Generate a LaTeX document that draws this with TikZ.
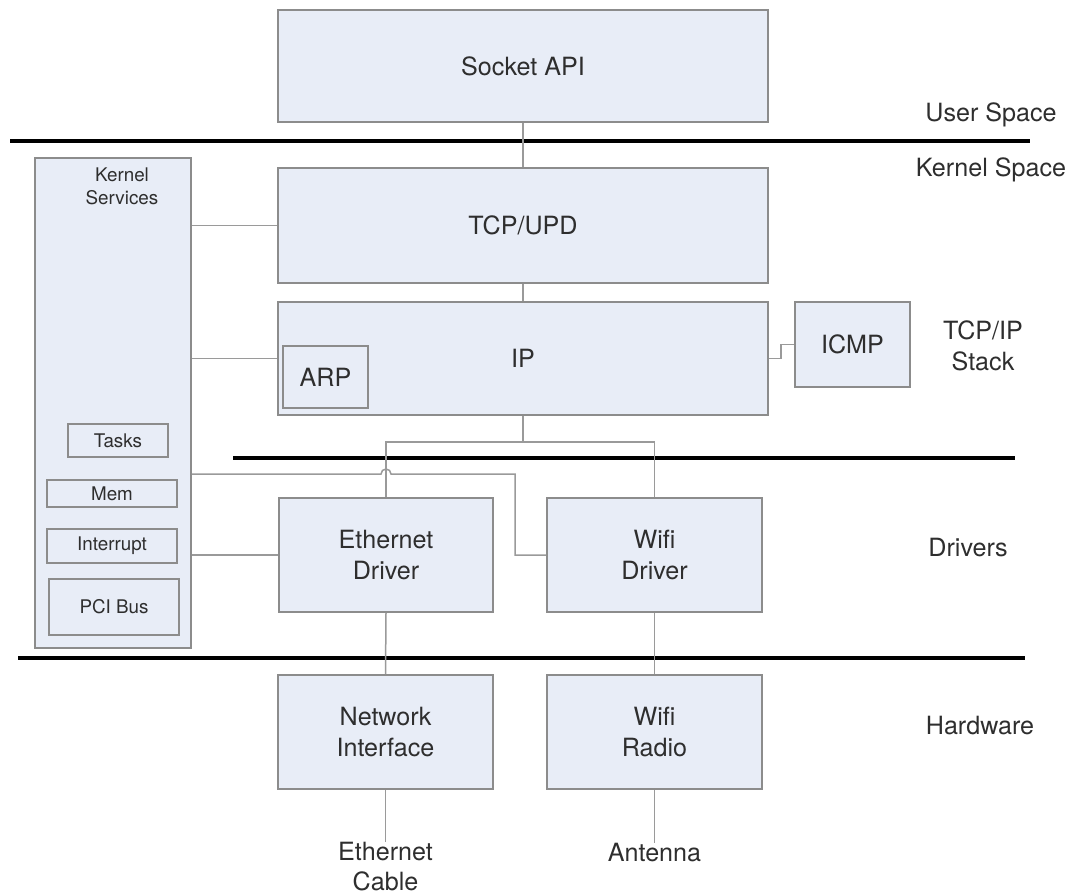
\documentclass[tikz,border=0pt]{standalone}
\usepackage{fontspec}
\setmainfont{TeX Gyre Heros}
\usetikzlibrary{arrows.meta}
\usepackage{xcolor}

\definecolor{boxfill}{HTML}{E8EDF7}
\definecolor{boxline}{HTML}{8C8C8C}
\definecolor{wirecol}{HTML}{9A9A9A}
\definecolor{txtcol}{HTML}{2E2E2E}

\tikzset{
    blk/.style={draw=boxline, fill=boxfill, line width=0.35mm, align=center, inner sep=0pt,
        text=txtcol, font=\fontsize{14.3}{17.5}\selectfont},
    subblk/.style={blk, font=\fontsize{10.7}{13}\selectfont},
    wire/.style={draw=wirecol, line width=0.3mm},
    layerline/.style={line width=0.8mm, black},
    lbl/.style={text=txtcol, align=center, inner sep=0pt, font=\fontsize{14.3}{17.5}\selectfont}
}

\begin{document}
\begin{tikzpicture}[x=0.2mm, y=-0.2mm]
        \useasboundingbox (0,0) rectangle (1074,895);

        % Layer separators
        \draw[layerline] (10,141) -- (1030,141); % user / kernel
        \draw[layerline] (233,458) -- (1015,458); % stack / drivers
        \draw[layerline] (18,658) -- (1025,658); % drivers / hardware

        % Stack blocks
        \node[blk, minimum width=98mm, minimum height=22.4mm] (sock) at (523,66) {Socket API};
        \node[blk, minimum width=98mm, minimum height=23mm] (tcp) at (523,225.5) {TCP/UPD};
        \node[blk, minimum width=98mm, minimum height=22.6mm] (ip) at (523,358.5) {IP};
        \node[blk, minimum width=17mm, minimum height=12.4mm] (arp) at (325.5,377) {ARP};
        \node[blk, minimum width=23mm, minimum height=17mm] (icmp) at (852.5,344.5) {ICMP};

        % Kernel services column
        \node[blk, minimum width=31.2mm, minimum height=98mm] (ks) at (113,403) {};
        \node[lbl, font=\fontsize{10.7}{13}\selectfont] (kslbl) at (122,186) {Kernel\\Services};
        \node[subblk, minimum width=20mm, minimum height=6.6mm] (tasks) at (118,440.5) {Tasks};
        \node[subblk, minimum width=26mm, minimum height=5.4mm] (mem) at (112,493.5) {Mem};
        \node[subblk, minimum width=26mm, minimum height=6.8mm] (irq) at (112,546) {Interrupt};
        \node[subblk, minimum width=26mm, minimum height=11.2mm] (pci) at (114,607) {PCI Bus};

        % Drivers and hardware
        \node[blk, minimum width=42.8mm, minimum height=22.8mm] (eth) at (386,555) {Ethernet\\Driver};
        \node[blk, minimum width=43mm, minimum height=22.8mm] (wdrv) at (654.5,555) {Wifi\\Driver};
        \node[blk, minimum width=43mm, minimum height=22.8mm] (nic) at (385.5,732) {Network\\Interface};
        \node[blk, minimum width=43mm, minimum height=22.8mm] (radio) at (654.5,732) {Wifi\\Radio};

        % Media below the hardware
        \node[lbl, anchor=north, font=\fontsize{14.3}{16.8}\selectfont] (cable) at (385.5,842) {Ethernet\\Cable};
        \node[lbl, anchor=north] (ant) at (654.5,843) {Antenna};

        % Layer labels
        \node[lbl, anchor=base] (uspace) at (991,122) {User Space};
        \node[lbl, anchor=base] (kspace) at (991,177) {Kernel Space};
        \node[lbl] (stack) at (983,346) {TCP/IP\\Stack};
        \node[lbl] (drvlbl) at (968,548) {Drivers};
        \node[lbl] (hwlbl) at (980,726) {Hardware};

        % Vertical links
        \draw[wire] (sock.south) -- (tcp.north);
        \draw[wire] (tcp.south) -- (ip.north);
        \draw[wire] (eth.south) -- (nic.north);
        \draw[wire] (wdrv.south) -- (radio.north);
        \draw[wire] (nic.south) -- (cable.north);
        \draw[wire] (radio.south) -- (ant.north);

        % IP down to both drivers
        \draw[wire] (ip.south) -- ++(0,26) coordinate (split);
        \draw[wire] (split) -| (eth.north);
        \draw[wire] (split) -| (wdrv.north);

        % IP to ICMP
        \draw[wire] (ip.east) -- ++(12,0) |- (icmp.west);

        % Kernel services links
        \draw[wire] (tcp.west -| ks.east) -- (tcp.west);
        \draw[wire] (ip.west -| ks.east) -- (ip.west);
        \draw[wire] (eth.west -| ks.east) -- (eth.west);
        \coordinate (hop) at (eth.north |- 0,474);
        \draw[wire] (ks.east |- hop) -- ([xshift=-1mm]hop) arc[start angle=180, end angle=0, radius=1mm]
            -- (515,474) |- (wdrv.west); % hop over the ethernet link
    \end{tikzpicture}
\end{document}
